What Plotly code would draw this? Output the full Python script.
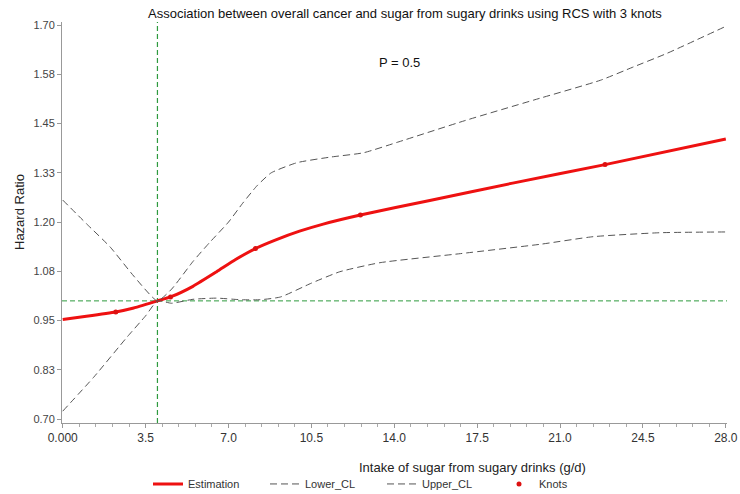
import plotly.graph_objects as go

# ---- data ----
est_x = [0, 1, 2.24, 3, 4.0, 4.55, 5.5, 6.5, 7.3, 8.14, 9, 10, 11, 12.57, 15.5, 19, 22.9, 28]
est_y = [0.953, 0.961, 0.972, 0.982, 1.0, 1.010, 1.037, 1.074, 1.105, 1.133, 1.155, 1.177, 1.195, 1.218, 1.255, 1.299, 1.346, 1.411]

lower_x = [0, 1.32, 2.73, 3.5, 4.0, 4.6, 5.5, 6.5, 7.5, 8.35, 9.2, 10.5, 11.7, 13.4, 16.8, 20.2, 22.4, 25.2, 28]
lower_y = [0.72, 0.807, 0.909, 0.962, 1.0, 0.994, 1.004, 1.007, 1.003, 1.003, 1.01, 1.045, 1.074, 1.097, 1.12, 1.144, 1.163, 1.173, 1.175]

upper_x = [0, 1, 2, 3, 4.0, 4.6, 5.5, 6.2, 7.0, 7.6, 8.2, 8.8, 9.9, 11.3, 12.7, 14.2, 17, 19.9, 22.7, 24.1, 25.5, 28]
upper_y = [1.256, 1.196, 1.137, 1.063, 1.0, 1.03, 1.100, 1.148, 1.200, 1.248, 1.292, 1.325, 1.351, 1.365, 1.376, 1.404, 1.458, 1.510, 1.560, 1.594, 1.628, 1.697]

knot_x = [2.24, 4.55, 8.14, 12.57, 22.9]
knot_y = [0.972, 1.010, 1.133, 1.218, 1.346]

ref_x = 4.0
ref_hr = 1.0

x_ticks = [0, 3.5, 7.0, 10.5, 14.0, 17.5, 21.0, 24.5, 28.0]
x_tick_text = ["0.000", "3.5", "7.0", "10.5", "14.0", "17.5", "21.0", "24.5", "28.0"]
y_ticks = [0.70, 0.825, 0.95, 1.075, 1.20, 1.325, 1.45, 1.575, 1.70]
y_tick_text = ["0.70", "0.83", "0.95", "1.08", "1.20", "1.33", "1.45", "1.58", "1.70"]

x_range = [-0.03, 28.05]
y_range = [0.69, 1.708]

FONT = "Liberation Sans, Arial, sans-serif"
GREEN = "#2e9a3e"

fig = go.Figure()

# reference lines
fig.add_trace(go.Scatter(x=x_range, y=[ref_hr, ref_hr], mode="lines",
                         line=dict(color=GREEN, width=1, dash="5px,3px"),
                         showlegend=False, hoverinfo="skip"))
fig.add_trace(go.Scatter(x=[ref_x, ref_x], y=y_range, mode="lines",
                         line=dict(color=GREEN, width=1.2, dash="5px,3px"),
                         showlegend=False, hoverinfo="skip"))

fig.add_trace(go.Scatter(x=est_x, y=est_y, mode="lines", name="Estimation",
                         line=dict(color="#ee1111", width=3, shape="spline", smoothing=0.5)))
fig.add_trace(go.Scatter(x=lower_x, y=lower_y, mode="lines", name="Lower_CL",
                         line=dict(color="#555555", width=1, dash="7px,4px", shape="spline", smoothing=0.5)))
fig.add_trace(go.Scatter(x=upper_x, y=upper_y, mode="lines", name="Upper_CL",
                         line=dict(color="#555555", width=1, dash="7px,4px", shape="spline", smoothing=0.5)))
fig.add_trace(go.Scatter(x=knot_x, y=knot_y, mode="markers", name="Knots",
                         marker=dict(color="#dd1111", size=5, symbol="circle")))

fig.update_layout(
    width=740, height=494,
    margin=dict(l=62, r=13, t=22, b=71, autoexpand=False),
    paper_bgcolor="white", plot_bgcolor="white",
    font=dict(family=FONT, color="#222222", size=12),
    showlegend=True,
    legend=dict(orientation="h", x=(148 - 62) / 665, xanchor="left", y=-0.152, yanchor="middle",
                font=dict(size=11, color="#333333"), bgcolor="rgba(0,0,0,0)",
                entrywidth=72, entrywidthmode="pixels", tracegroupgap=0),
    xaxis=dict(range=x_range, tickvals=x_ticks, ticktext=x_tick_text, automargin=False,
               ticklabeloverflow="allow",
               showgrid=False, zeroline=False, showline=True, linecolor="#999999", linewidth=1,
               ticks="outside", ticklen=4, tickcolor="#999999",
               tickfont=dict(size=12, color="#333333"),
               minor=dict(dtick=0.7, ticks="outside", ticklen=3, tickcolor="#aaaaaa"),
               mirror=False),
    yaxis=dict(range=y_range, tickvals=y_ticks, ticktext=y_tick_text, automargin=False,
               showgrid=False, zeroline=False, showline=True, linecolor="#999999", linewidth=1,
               ticks="outside", ticklen=4, tickcolor="#999999",
               tickfont=dict(size=11, color="#444444")),
    annotations=[
        dict(text="Association between overall cancer and sugar from sugary drinks using RCS with 3 knots",
             xref="paper", yref="paper", x=0.516, y=1.0, yshift=9, xanchor="center", yanchor="middle",
             showarrow=False, font=dict(size=13, color="#111111")),
        dict(text="P = 0.5", xref="paper", yref="paper",
             x=(399 - 62) / 665, y=(423 - 62) / 401, xanchor="center", yanchor="middle",
             showarrow=False, font=dict(size=13, color="#111111")),
        dict(text="Intake of sugar from sugary drinks (g/d)", xref="paper", yref="paper",
             x=(472 - 62) / 665, y=(423 - 467) / 401, xanchor="center", yanchor="middle",
             showarrow=False, font=dict(size=13, color="#222222")),
        dict(text="Hazard Ratio", xref="paper", yref="paper",
             x=(19 - 62) / 665, y=(423 - 212) / 401, xanchor="center", yanchor="middle",
             textangle=-90, showarrow=False, font=dict(size=13, color="#222222")),
    ],
)

# remove the default 8px page margin so the figure fills the window exactly
fig.write_html("out.html", config={"displayModeBar": False},
               post_script="document.body.style.margin='0';document.body.style.overflow='hidden';")
